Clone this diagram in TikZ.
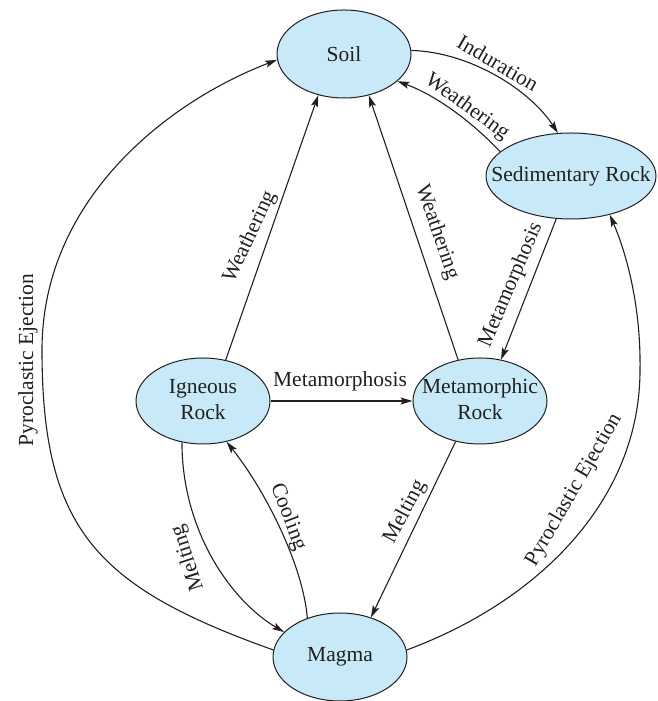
\documentclass[tikz,border=0pt]{standalone}
\usepackage{fontspec}
\setmainfont{Liberation Serif}
\usetikzlibrary{shapes.geometric,arrows.meta}
\definecolor{rockfill}{RGB}{200,233,248}
\definecolor{ink}{RGB}{35,31,32}
\begin{document}
\begin{tikzpicture}[x=1pt,y=1pt,
  every node/.style={font=\fontsize{21.5}{26.5}\selectfont, text=ink},
  rock/.style={ellipse, draw=ink, fill=rockfill, line width=1pt, inner sep=0pt},
  conn/.style={draw=ink, line width=1.1pt, -{Stealth[length=12pt,width=7pt,inset=2.5pt]}},
  lab/.style={inner sep=0pt}]
\useasboundingbox (0,0) rectangle (657,701);
% rocks
\node[rock, minimum width=134pt, minimum height=88pt] (soil) at (344,647) {\makebox[0pt]{Soil}};
\node[rock, minimum width=170pt, minimum height=86pt] (sed) at (571,525) {\makebox[0pt]{Sedimentary Rock}};
\node[rock, minimum width=134pt, minimum height=86pt] (ign) at (203,300) {\makebox[0pt]{\begin{tabular}{@{}c@{}}Igneous\\Rock\end{tabular}}};
\node[rock, minimum width=134pt, minimum height=86pt] (meta) at (480,300) {\makebox[0pt]{\begin{tabular}{@{}c@{}}Metamorphic\\Rock\end{tabular}}};
\node[rock, minimum width=134pt, minimum height=88pt] (magma) at (340,44) {\makebox[0pt]{Magma}};
% connectors
\draw[conn] (ign.61) -- (soil.238);
\draw[conn] (meta.118) -- (soil.301);
\draw[conn] (soil.3) .. controls (470,649) and (530,611) .. (sed.107);
\draw[conn] (sed.161) .. controls (470,581) and (435,606) .. (soil.-27);
\draw[conn] (sed.251) -- (meta.63);
\draw[conn] (ign.east) -- (meta.west);
\draw[conn] (meta.239) -- (magma.52);
\draw[conn] (ign.243) .. controls (182,171) and (230,101) .. (magma.156);
\draw[conn] (magma.130) .. controls (303,136) and (265,211) .. (ign.300);
\draw[conn] (magma.174) .. controls (97,114) and (42,171) .. (42,351) .. controls (42,501) and (167,599) .. (soil.185);
\draw[conn] (magma.6) .. controls (539,100) and (640,201) .. (640,331) .. controls (641,391) and (628,444) .. (sed.315);
% labels
\node[lab, rotate=65] (lw1) at (250,464) {Weathering};
\node[lab, rotate=-71] (lw2) at (437,469) {Weathering};
\node[lab, rotate=-30] (lind) at (498,638) {Induration};
\node[lab, rotate=-36] (lw3) at (467,594) {Weathering};
\node[lab, rotate=67] (lmet1) at (511,416) {Metamorphosis};
\node[lab] (lmet2) at (340,320) {Metamorphosis};
\node[lab, rotate=62] (lmel1) at (405,189) {Melting};
\node[lab, rotate=108] (lmel2) at (188,143) {Melting};
\node[lab, rotate=-69] (lcool) at (288,184) {Cooling};
\node[lab, rotate=90] (lpy1) at (28,341) {Pyroclastic Ejection};
\node[lab, rotate=60] (lpy2) at (574,211) {Pyroclastic Ejection};
\end{tikzpicture}
\end{document}
